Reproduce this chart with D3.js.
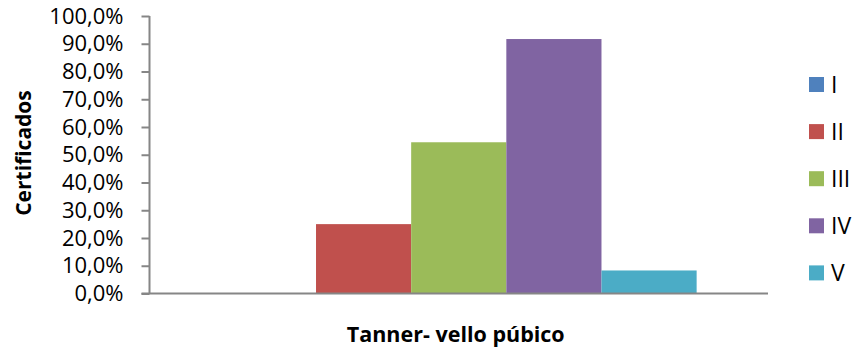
<!DOCTYPE html>
<html>
<head>
<meta charset="utf-8">
<script src="https://cdn.jsdelivr.net/npm/d3@7"></script>
<style>
  html, body { margin: 0; padding: 0; background: #fff; }
  svg { display: block; font-family: "Open Sans", sans-serif; }
</style>
</head>
<body>
<svg id="chart" width="854" height="354"></svg>
<script>
// Tanner stage (pubic hair) distribution
const stages = ["I", "II", "III", "IV", "V"];
const shares = [0, 25.0, 54.5, 91.7, 8.3];
const colors = ["#4F81BD", "#C0504D", "#9BBB59", "#8064A2", "#4BACC6"];
const yTicks = [0, 10, 20, 30, 40, 50, 60, 70, 80, 90, 100];
const categories = ["Tanner- vello púbico"];

const svg = d3.select("#chart");
const plot = { left: 149.5, right: 768, top: 16, bottom: 293.5 };

const y = d3.scaleLinear().domain([0, 100]).range([plot.bottom, plot.top]);
const x0 = d3.scaleBand().domain(categories).range([plot.left, plot.right]);
// 150% gap: the group holds 5 bars plus 1.5 bar widths of space
const barW = (plot.right - plot.left) / 6.5;
const x1 = d3.scaleBand().domain(stages)
  .range([plot.left + barW * 0.75, plot.right - barW * 0.75]).padding(0);

const fmt = d => d3.format(".1f")(d).replace(".", ",") + "%";

// bars
svg.append("g").selectAll("rect")
  .data(stages.map((s, i) => ({ s, v: shares[i], c: colors[i] })))
  .join("rect")
  .attr("x", d => x1(d.s))
  .attr("width", x1.bandwidth())
  .attr("y", d => y(d.v))
  .attr("height", d => y(0) - y(d.v))
  .attr("fill", d => d.c);

// y axis
const yAxis = svg.append("g")
  .attr("transform", `translate(${plot.left},0)`)
  .call(d3.axisLeft(y).tickValues(yTicks).tickFormat(fmt).tickSize(8).tickPadding(18));
yAxis.select(".domain").attr("stroke", "#868686").attr("stroke-width", 2)
  .attr("d", `M0,${plot.top}V${plot.bottom}`);
yAxis.selectAll(".tick line").attr("stroke", "#868686").attr("stroke-width", 2);
yAxis.selectAll(".tick text").attr("font-size", 22).attr("fill", "#000")
  .attr("font-family", "'Open Sans', sans-serif");

// x axis baseline
svg.append("line")
  .attr("x1", plot.left - 8).attr("x2", plot.right)
  .attr("y1", y(0)).attr("y2", y(0))
  .attr("stroke", "#868686").attr("stroke-width", 2);

// axis titles
svg.append("text")
  .attr("transform", `translate(31,153) rotate(-90)`)
  .attr("text-anchor", "middle")
  .attr("font-size", 21).attr("font-weight", "bold")
  .text("Certificados");

svg.append("text")
  .attr("x", x0(categories[0]) + x0.bandwidth() / 2 - 3)
  .attr("y", 342)
  .attr("text-anchor", "middle")
  .attr("font-size", 21.5).attr("font-weight", "bold")
  .text(categories[0]);

// legend
const legend = svg.append("g").selectAll("g")
  .data(stages)
  .join("g")
  .attr("transform", (d, i) => `translate(809,${77 + i * 47.1})`);
legend.append("rect").attr("width", 15).attr("height", 15)
  .attr("fill", (d, i) => colors[i]);
legend.append("text").attr("x", 22).attr("y", 16)
  .attr("font-size", 23).text(d => d);
</script>
</body>
</html>
